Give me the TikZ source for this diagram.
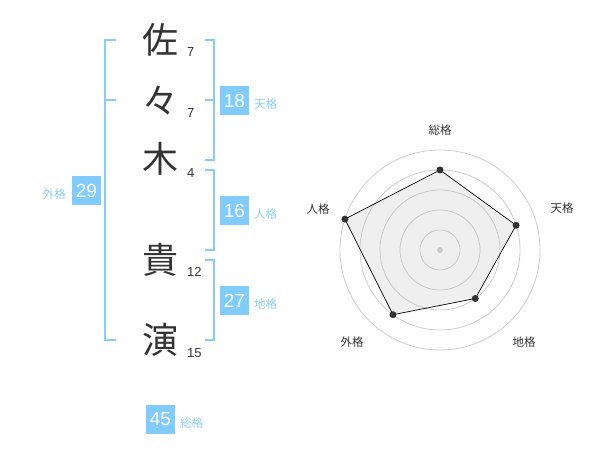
\documentclass[tikz,border=0pt]{standalone}
\usepackage{fontspec}
\setmainfont{Liberation Sans}
\newfontfamily\jp{Noto Sans CJK JP}
\definecolor{brk}{RGB}{136,204,250}
\definecolor{boxc}{RGB}{128,204,255}
\definecolor{lbl}{RGB}{140,205,245}
\definecolor{ink}{RGB}{51,51,51}
\definecolor{ring}{RGB}{204,204,204}
\tikzset{
  kanji/.style={font=\jp\fontsize{36}{36}\selectfont, text=ink, inner sep=0pt},
  strk/.style={font=\fontsize{13}{13}\selectfont, text=ink, anchor=west, inner sep=0pt},
  numbox/.style={fill=boxc, text=white, font=\fontsize{19}{19}\selectfont, minimum width=29pt, minimum height=29pt, inner sep=0pt},
  kaku/.style={font=\jp\fontsize{11.5}{12}\selectfont, text=lbl, inner sep=0pt},
  brkline/.style={draw=brk, line width=2pt},
  rlabel/.style={font=\jp\fontsize{11.5}{12}\selectfont, text=ink, inner sep=0pt},
  ringc/.style={draw=ring, line width=0.8pt},
  vdot/.style={circle, fill=ink, inner sep=0pt, minimum size=7pt}
}
\begin{document}
\begin{tikzpicture}[x=1pt,y=-1pt]
\useasboundingbox (0,0) rectangle (600,470);
% kanji
\node[kanji] (k1) at (160,40) {佐};
\node[kanji] (k2) at (160,101) {々};
\node[kanji] (k3) at (160,159) {木};
\node[kanji] (k4) at (160,260) {貴};
\node[kanji] (k5) at (160,340) {演};
% stroke counts
\node[strk] (s1) at (187,52) {7};
\node[strk] (s2) at (187,113) {7};
\node[strk] (s3) at (187,173) {4};
\node[strk] (s4) at (187,272) {12};
\node[strk] (s5) at (187,353) {15};
% brackets
\draw[brkline] (116,40) -- (105,40) -- (105,340) -- (116,340);
\draw[brkline] (105,100) -- (116,100);
\draw[brkline] (205,40) -- (214,40) -- (214,160) -- (205,160);
\draw[brkline] (205,100) -- (214,100);
\draw[brkline] (205,170) -- (214,170) -- (214,250) -- (205,250);
\draw[brkline] (205,260) -- (214,260) -- (214,340) -- (205,340);
% boxes
\node[numbox] (b18) at (234.5,100.5) {18};
\node[kaku, anchor=west] (l18) at (254,104) {天格};
\node[numbox] (b16) at (234.5,210.5) {16};
\node[kaku, anchor=west] (l16) at (254,214) {人格};
\node[numbox] (b27) at (234.5,300.5) {27};
\node[kaku, anchor=west] (l27) at (254,304) {地格};
\node[numbox] (b29) at (86.5,190.5) {29};
\node[kaku, anchor=east] (l29) at (66,194) {外格};
\node[numbox] (b45) at (160.5,419.5) {45};
\node[kaku, anchor=west] (l45) at (180,423) {総格};
% radar
\coordinate (c) at (440,250);
\foreach \r in {20,40,60,80,100} \draw[ringc] (c) circle (\r);
\fill[ring] (c) circle (3);
\path (c) ++(0,-80) coordinate (p1);
\path (c) ++(76.1,-24.7) coordinate (p2);
\path (c) ++(35.3,48.5) coordinate (p3);
\path (c) ++(-47.0,64.7) coordinate (p4);
\path (c) ++(-95.1,-30.9) coordinate (p5);
\filldraw[fill=black!25, fill opacity=0.25, draw=black, line width=0.7pt] (p1) -- (p2) -- (p3) -- (p4) -- (p5) -- cycle;
\foreach \p in {p1,p2,p3,p4,p5} \node[vdot] at (\p) {};
\node[rlabel] (r1) at (440,130) {総格};
\node[rlabel] (r2) at (562,208) {天格};
\node[rlabel] (r3) at (524,342) {地格};
\node[rlabel] (r4) at (352,342) {外格};
\node[rlabel] (r5) at (318,209) {人格};
\end{tikzpicture}
\end{document}
